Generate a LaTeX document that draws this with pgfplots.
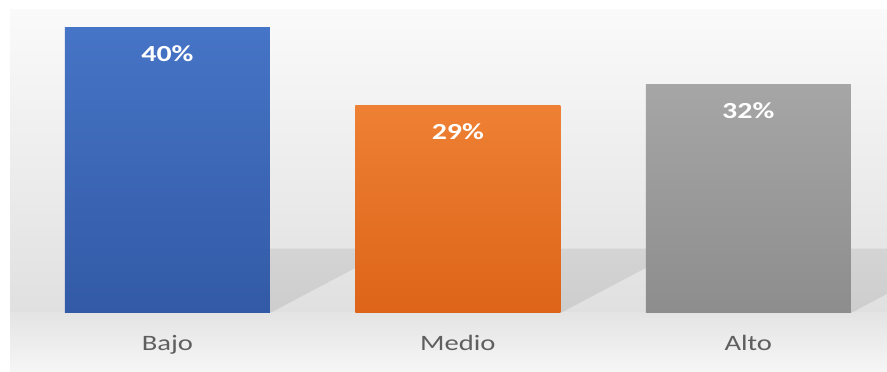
\documentclass[border=0pt]{standalone}
\usepackage{pgfplots}
\pgfplotsset{compat=1.18}
\usepackage{fontspec}
\setmainfont{Carlito}
\newfontfamily\lbl[FakeStretch=1.3]{Carlito}
\definecolor{blueT}{RGB}{70,116,198}
\definecolor{blueB}{RGB}{50,90,166}
\definecolor{orT}{RGB}{238,128,52}
\definecolor{orB}{RGB}{221,100,24}
\definecolor{grT}{RGB}{166,166,166}
\definecolor{grB}{RGB}{141,141,141}
\definecolor{lblgray}{RGB}{95,95,95}
\definecolor{wallT}{RGB}{250,250,250}
\definecolor{wallB}{RGB}{224,224,224}
\definecolor{floorT}{RGB}{228,228,228}
\definecolor{floorB}{RGB}{246,246,246}
\definecolor{shT}{RGB}{212,212,212}
\definecolor{shM}{RGB}{172,172,172}
\definecolor{shB}{RGB}{205,205,205}
\begin{document}
\begin{tikzpicture}
\fill[top color=wallT, bottom color=wallB] (10pt,0pt) rectangle (887pt,303pt);
\fill[top color=floorT, bottom color=floorB] (10pt,-59pt) rectangle (887pt,0pt);
\begin{axis}[
  at={(0pt,0pt)}, anchor=south west,
  scale only axis, width=887pt, height=313pt,
  xmin=-0.5766, xmax=2.4776, ymin=0, ymax=43.78,
  axis line style={draw=none}, tick style={draw=none},
  ytick=\empty,
  xtick={0,1,2}, xticklabels={Bajo,Medio,Alto},
  xticklabel style={font=\lbl\fontsize{22}{26}\selectfont, text=lblgray, anchor=base, yshift=-33pt},
  /pgf/number format/assume math mode=true,
  ybar, bar width=205pt, bar shift=0pt,
  nodes near coords={\pgfmathprintnumber{\pgfplotspointmeta}\%},
  every node near coord/.append style={font=\lbl\bfseries\fontsize{23}{27}\selectfont, text=white, anchor=base, yshift=-34pt},
  clip=false,
]
\shade[top color=shT, middle color=shM, bottom color=shB] (axis cs:0.353,9.0) -- (axis cs:0.647,9.0) -- (axis cs:0.647,6.3) -- (axis cs:0.353,0) -- cycle;
\shade[top color=shT, middle color=shM, bottom color=shB] (axis cs:1.353,9.0) -- (axis cs:1.647,9.0) -- (axis cs:1.647,6.3) -- (axis cs:1.353,0) -- cycle;
\shade[top color=shT, middle color=shM, bottom color=shB] (axis cs:2.353,9.0) -- (axis cs:2.4776,9.0) -- (axis cs:2.4776,2.67) -- (axis cs:2.353,0) -- cycle;
\addplot[draw=none, top color=blueT, bottom color=blueB] coordinates {(0,40)};
\addplot[draw=none, top color=orT, bottom color=orB] coordinates {(1,29)};
\addplot[draw=none, top color=grT, bottom color=grB] coordinates {(2,32)};
\end{axis}
\pgfresetboundingbox
\useasboundingbox (0pt,-59pt) rectangle (887pt,313pt);
\end{tikzpicture}
\end{document}
